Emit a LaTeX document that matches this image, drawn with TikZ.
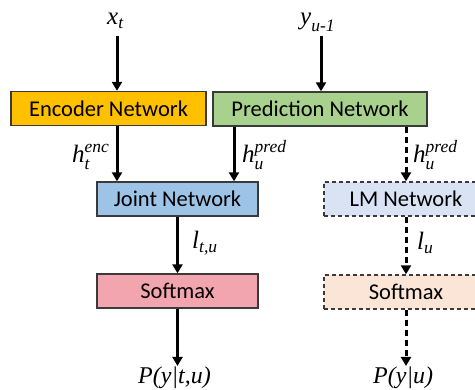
\documentclass[tikz,border=0pt]{standalone}
\usepackage{amsmath}
\usepackage{fontspec}
\newfontfamily\carlito{Carlito}
\newfontfamily\tmsi{Liberation Serif Italic}
\usetikzlibrary{arrows.meta}
\definecolor{bordercol}{HTML}{3A3A3A}
\definecolor{encfill}{HTML}{FFC000}
\definecolor{predfill}{HTML}{A9D18E}
\definecolor{jointfill}{HTML}{9DC3E6}
\definecolor{softfill}{HTML}{F2A5AF}
\definecolor{lmfill}{HTML}{DAE3F3}
\definecolor{softrfill}{HTML}{FBE5D6}
\tikzset{
  box/.style={draw=bordercol, line width=1.4pt, minimum height=34pt, inner sep=0pt,
    font=\carlito\fontsize{22.5}{27}\selectfont},
  dbox/.style={box, dash pattern=on 4pt off 3pt},
  arr/.style={line width=3pt, -{Triangle[width=10pt,length=9pt]}},
  darr/.style={arr, dash pattern=on 6pt off 4pt},
  lab/.style={inner sep=0pt, font=\tmsi\fontsize{25}{30}\selectfont},
  plab/.style={inner sep=0pt, font=\tmsi\fontsize{24}{29}\selectfont},
}
\begin{document}
\begin{tikzpicture}[x=1pt,y=-1pt]
\useasboundingbox (0,0) rectangle (475,390);
\clip (0,0) rectangle (475,390);
\fill[white] (0,0) rectangle (475,390);
% boxes
\node[box, fill=encfill, minimum width=195pt] (enc) at (108.5,108.5) {Encoder Network};
\node[box, fill=predfill, minimum width=214pt] (pred) at (320,109) {Prediction Network};
\node[box, fill=jointfill, minimum width=161pt] (joint) at (177.5,199) {Joint Network};
\node[box, fill=softfill, minimum width=161pt] (softl) at (177.5,291) {Softmax};
\node[dbox, fill=lmfill, minimum width=164pt] (lm) at (406,199) {LM Network};
\node[dbox, fill=softrfill, minimum width=164pt] (softr) at (406,292) {Softmax};
% labels
\node[lab, anchor=base west] (xt) at (107,25) {$\text{x}_{\text{t}}$};
\node[lab, anchor=base west] (yu) at (300,25) {$\text{y}_{\text{u-1}}$};
\node[lab, anchor=base west] (henc) at (72,163) {$\text{h}^{\text{enc}}_{\text{t}}$};
\node[lab, anchor=base west] (hpred) at (242,163) {$\text{h}^{\text{pred}}_{\text{u}}$};
\node[lab, anchor=base west] (hpredr) at (413,163) {$\text{h}^{\text{pred}}_{\text{u}}$};
\node[lab, anchor=base west] (ltu) at (192,249) {$\text{l}_{\text{t,u}}$};
\node[lab, anchor=base west] (lu) at (417,250) {$\text{l}_{\text{u}}$};
\node[plab, anchor=base west] (ptu) at (138,384) {P(y|t,u)};
\node[plab, anchor=base west] (pu) at (373,384) {P(y|u)};
% connector ends
\coordinate (xtin) at (117,36);
\coordinate (yuin) at (321,36);
\coordinate (cpred) at (234,0);
\coordinate (ptuin) at (177.5,366);
\coordinate (puin) at (406,366);
% connectors
\draw[arr] (xtin) -- (enc.north -| xtin);
\draw[arr] (yuin) -- (pred.north -| yuin);
\draw[arr] (enc.south -| xtin) -- (joint.north -| xtin);
\draw[arr] (pred.south -| cpred) -- (joint.north -| cpred);
\draw[darr] (pred.south -| lm.north) -- (lm.north);
\draw[arr] (joint.south) -- (softl.north);
\draw[arr] (softl.south) -- (ptuin);
\draw[darr] (lm.south) -- (softr.north);
\draw[darr] (softr.south) -- (puin);
\end{tikzpicture}
\end{document}
